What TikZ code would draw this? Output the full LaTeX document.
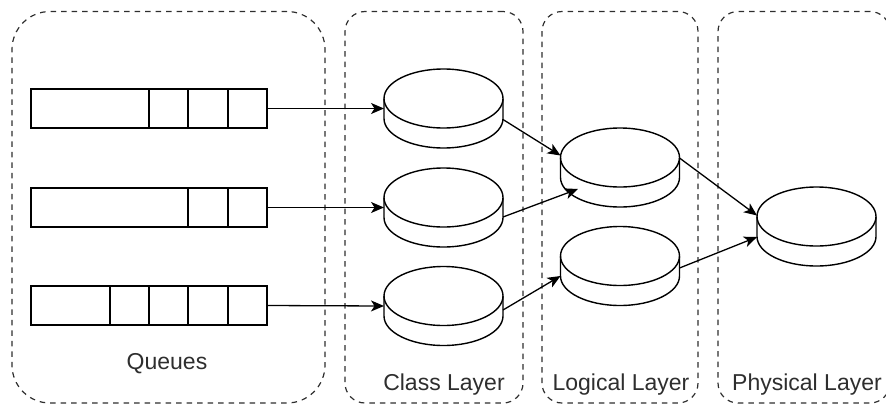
\documentclass[tikz,border=0pt]{standalone}
\usepackage{fontspec}
\setmainfont{Liberation Sans}
\usetikzlibrary{arrows.meta}

% draws a disk (cylinder with full top ellipse) inside a named, invisible node
\newcommand\drawdisk[1]{%
  \draw[diskline] ([yshift=-29.5pt]#1.north) ellipse[x radius=59.5pt, y radius=29.5pt];
  \draw[diskline] ([yshift=10pt]#1.west) -- ([yshift=-10pt]#1.west)
    arc[start angle=180, end angle=360, x radius=59.5pt, y radius=29.5pt]
    -- ([yshift=10pt]#1.east);
}

\tikzset{
  group/.style={draw=black!82, line width=1.2pt, dash pattern=on 5.5pt off 5pt,
    rectangle, inner sep=0pt, outer sep=0pt, minimum height=391.5pt},
  grouplabel/.style={text=black!82, font=\fontsize{23}{27}\selectfont, inner sep=0pt},
  queue/.style={draw=black, line width=1.4pt, rectangle, inner sep=0pt, outer sep=0pt,
    minimum width=236pt, minimum height=39pt},
  cell/.style={draw=black, line width=1.4pt},
  disk/.style={rectangle, inner sep=0pt, outer sep=0pt, minimum width=119pt, minimum height=79pt},
  diskline/.style={draw=black, line width=1.4pt},
  flow/.style={draw=black, line width=1.3pt, -{Stealth[length=13pt, width=11pt, inset=3.5pt]}},
}

\begin{document}
\begin{tikzpicture}[x=1pt, y=-1pt]
  \useasboundingbox (0,0) rectangle (886,405);

  % layer containers
  \node[group, minimum width=313pt, rounded corners=38pt] (gq) at (168.5,207.25) {};
  \node[group, minimum width=178pt, rounded corners=20pt] (gc) at (434,207.25) {};
  \node[group, minimum width=156pt, rounded corners=20pt] (gl) at (620,207.25) {};
  \node[group, minimum width=172pt, rounded corners=20pt] (gp) at (804,207.25) {};

  \node[grouplabel] (tq) at (167,364) {Queues};
  \node[grouplabel] (tc) at (444,385) {Class Layer};
  \node[grouplabel] (tl) at (621,385) {Logical Layer};
  \node[grouplabel] (tp) at (807,385) {Physical Layer};

  % queues
  \node[queue] (q1) at (149,108.5) {};
  \node[queue] (q2) at (149,207.5) {};
  \node[queue] (q3) at (149,305.5) {};
  \foreach \dx in {118,157,197}
    \draw[cell] ([xshift=\dx pt]q1.north west) -- ([xshift=\dx pt]q1.south west);
  \foreach \dx in {157,197}
    \draw[cell] ([xshift=\dx pt]q2.north west) -- ([xshift=\dx pt]q2.south west);
  \foreach \dx in {79,118,157,197}
    \draw[cell] ([xshift=\dx pt]q3.north west) -- ([xshift=\dx pt]q3.south west);

  % disks
  \node[disk] (c1) at (443.5,108.5) {};
  \node[disk] (c2) at (443.5,207.5) {};
  \node[disk] (c3) at (443.5,306) {};
  \node[disk] (la) at (620,167.5) {};
  \node[disk] (lb) at (620,266) {};
  \node[disk] (ph) at (816.5,226.5) {};
  \foreach \n in {c1,c2,c3,la,lb,ph} { \drawdisk{\n} }

  % connectors
  \draw[flow] (q1.east) -- (c1.west);
  \draw[flow] (q2.east) -- (c2.west);
  \draw[flow] (q3.east) -- (c3.west);
  \draw[flow] ([yshift=-11pt]c1.east) -- ([yshift=12pt]la.west);
  \draw[flow] ([yshift=-9.5pt]c2.east) -- ([xshift=-42pt, yshift=-21.5pt]la.center);
  \draw[flow] ([yshift=-4pt]c3.east) -- ([yshift=-10pt]lb.west);
  \draw[flow] ([yshift=9.5pt]la.east) -- ([yshift=11pt]ph.west);
  \draw[flow] ([yshift=-2pt]lb.east) -- ([yshift=-10.5pt]ph.west);
\end{tikzpicture}
\end{document}
